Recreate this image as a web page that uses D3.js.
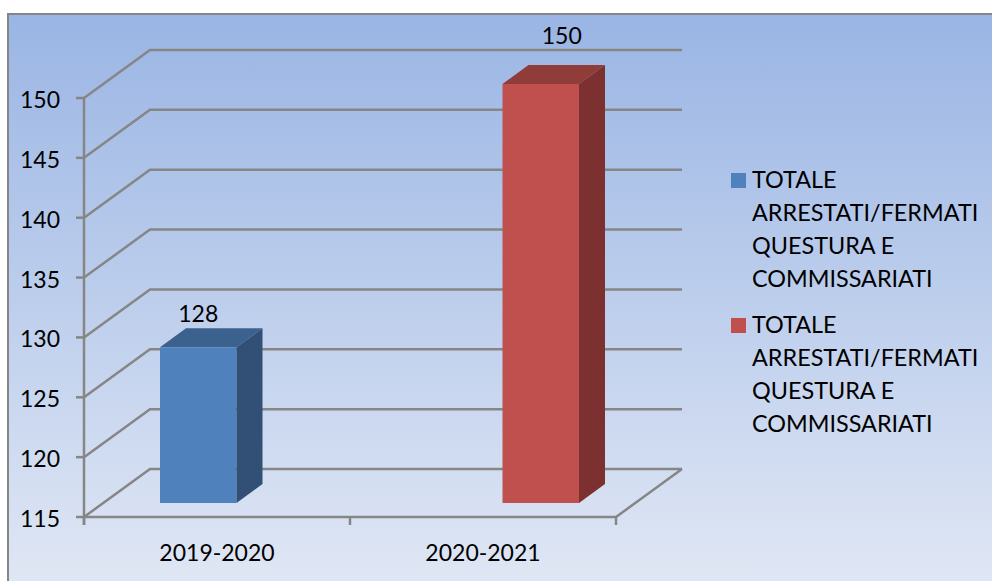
<!DOCTYPE html>
<html>
<head>
<meta charset="utf-8">
<script src="https://cdn.jsdelivr.net/npm/d3@7"></script>
<style>
  html, body { margin: 0; padding: 0; background: #fff; overflow: hidden; }
  text { font-family: Lato, sans-serif; fill: #000; font-size: 23px; }
  .legend text { font-size: 23.4px; }
</style>
</head>
<body>
<div id="chart"></div>
<script>
const categories = ["2019-2020", "2020-2021"];
const seriesNames = ["TOTALE ARRESTATI/FERMATI QUESTURA E COMMISSARIATI", "TOTALE ARRESTATI/FERMATI QUESTURA E COMMISSARIATI"];
const series1 = [128, null];
const series2 = [null, 150];
const yTicks = [115, 120, 125, 130, 135, 140, 145, 150];
const legendLines = ["TOTALE", "ARRESTATI/FERMATI", "QUESTURA E", "COMMISSARIATI"];

const width = 992, height = 581;
const plot = {left: 84, right: 616, top: 98, bottom: 517};
const depth = {dx: 66, dy: -48};       // oblique offset of the back wall
const barOffset = {dy: -14};           // bars stand a bit behind the front edge
const barDepth = {dx: 26, dy: -19};
const labelOffset = [{dx: 0, dy: -6}, {dx: 21, dy: -21}];

const colors = [
  {front: "#4f81bd", top: "#3b618f", side: "#325076"},
  {front: "#c0504d", top: "#903d3a", side: "#7c3130"}
];
const gridColor = "#868686";

const svg = d3.select("#chart").append("svg")
  .attr("width", width)
  .attr("height", height);

const defs = svg.append("defs");
const grad = defs.append("linearGradient")
  .attr("id", "bg")
  .attr("x1", 0).attr("y1", 0).attr("x2", 0).attr("y2", 1);
grad.append("stop").attr("offset", "0%").attr("stop-color", "#9ab5e4");
grad.append("stop").attr("offset", "100%").attr("stop-color", "#e1e8f5");

// frame runs off the right and bottom of the picture
svg.append("rect")
  .attr("x", 8).attr("y", 14)
  .attr("width", 1000).attr("height", 580)
  .attr("fill", "url(#bg)")
  .attr("stroke", gridColor)
  .attr("stroke-width", 2);

const y = d3.scaleLinear().domain([115, 150]).range([plot.bottom, plot.top]);
const x0 = d3.scaleBand().domain(categories).range([plot.left, plot.right]);
// the two series sit side by side in each band, pushed right of centre
const x1 = d3.scaleBand().domain([0, 1]).range([76, 229]);

// walls and floor
const grid = svg.append("g")
  .attr("fill", "none")
  .attr("stroke", gridColor)
  .attr("stroke-width", 2.5);

grid.selectAll(".grid").data(yTicks).enter().append("polyline")
  .attr("class", "grid")
  .attr("points", d => [
    [plot.left, y(d)],
    [plot.left + depth.dx, y(d) + depth.dy],
    [plot.right + depth.dx, y(d) + depth.dy]
  ].join(" "));

grid.append("polyline")
  .attr("points", [
    [plot.left, plot.bottom],
    [plot.right, plot.bottom],
    [plot.right + depth.dx, plot.bottom + depth.dy]
  ].join(" "));

// y axis
grid.append("line")
  .attr("x1", plot.left).attr("x2", plot.left)
  .attr("y1", y(150)).attr("y2", plot.bottom + 8);
grid.selectAll(".ytick").data(yTicks).enter().append("line")
  .attr("class", "ytick")
  .attr("x1", plot.left - 8).attr("x2", plot.left)
  .attr("y1", d => y(d)).attr("y2", d => y(d));

svg.append("g").selectAll("text").data(yTicks).enter().append("text")
  .attr("x", plot.left - 24)
  .attr("y", d => y(d) + 10)
  .attr("text-anchor", "end")
  .text(d => d);

// x axis ticks and labels
const xTicks = categories.map(c => x0(c)).concat([plot.right]);
grid.selectAll(".xtick").data(xTicks).enter().append("line")
  .attr("class", "xtick")
  .attr("x1", d => d).attr("x2", d => d)
  .attr("y1", plot.bottom).attr("y2", plot.bottom + 8);

svg.append("g").selectAll("text").data(categories).enter().append("text")
  .attr("x", d => x0(d) + x0.bandwidth() / 2)
  .attr("y", plot.bottom + 44)
  .attr("text-anchor", "middle")
  .text(d => d);

// bars
const baseY = plot.bottom + barOffset.dy;
[series1, series2].forEach((values, s) => {
  const g = svg.append("g");
  const bars = categories
    .map((c, i) => ({cat: c, value: values[i]}))
    .filter(d => d.value !== null);

  bars.forEach(d => {
    const bx = x0(d.cat) + x1(s);
    const bw = x1.bandwidth();
    const by = y(d.value) + barOffset.dy;

    g.append("rect")
      .attr("x", bx).attr("y", by)
      .attr("width", bw).attr("height", baseY - by)
      .attr("fill", colors[s].front);
    g.append("polygon")
      .attr("points", [
        [bx, by], [bx + bw, by],
        [bx + bw + barDepth.dx, by + barDepth.dy],
        [bx + barDepth.dx, by + barDepth.dy]
      ].join(" "))
      .attr("fill", colors[s].top);
    g.append("polygon")
      .attr("points", [
        [bx + bw, by], [bx + bw + barDepth.dx, by + barDepth.dy],
        [bx + bw + barDepth.dx, baseY + barDepth.dy], [bx + bw, baseY]
      ].join(" "))
      .attr("fill", colors[s].side);

    g.append("text")
      .attr("x", bx + bw / 2 + labelOffset[s].dx)
      .attr("y", by + barDepth.dy + labelOffset[s].dy)
      .attr("text-anchor", "middle")
      .text(d.value);
  });
});

// legend
const legendY = [188, 333];
seriesNames.forEach((name, s) => {
  const g = svg.append("g")
    .attr("class", "legend")
    .attr("transform", `translate(731,${legendY[s]})`);
  g.append("rect")
    .attr("x", 0).attr("y", -15)
    .attr("width", 15).attr("height", 15)
    .attr("fill", colors[s].front);
  legendLines.forEach((line, i) => {
    g.append("text")
      .attr("x", 21)
      .attr("y", i * 33)
      .text(line);
  });
});
</script>
</body>
</html>
